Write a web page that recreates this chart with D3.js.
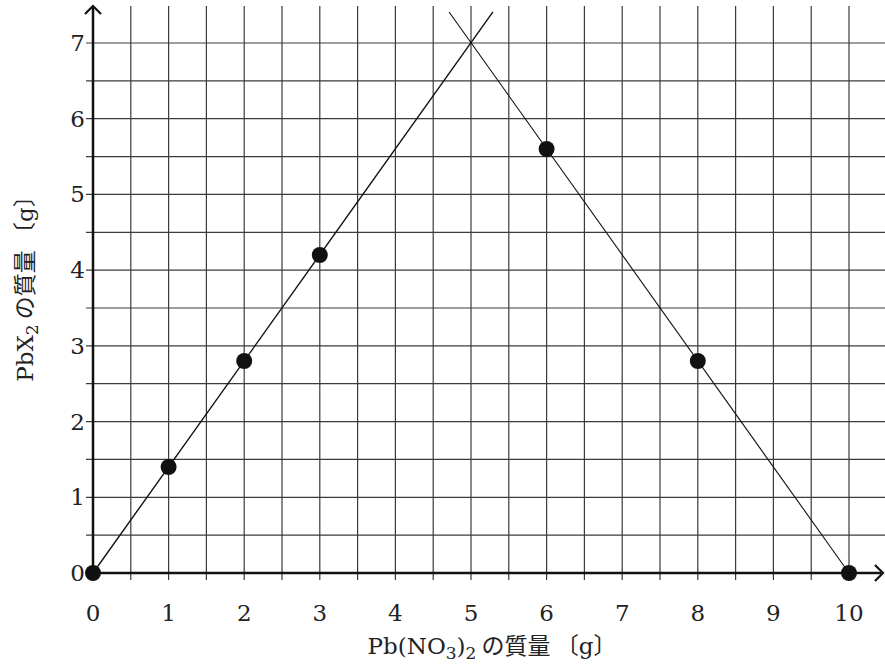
<!DOCTYPE html>
<html><head><meta charset="utf-8">
<script src="https://cdn.jsdelivr.net/npm/d3@7"></script>
<style>body{margin:0;background:#fff}</style>
</head><body>
<svg id="c" width="885" height="665"></svg>
<script>
const xTicks = [0,1,2,3,4,5,6,7,8,9,10];
const yTicks = [0,1,2,3,4,5,6,7];
const ptsX = [0,1,2,3,6,8,10];
const ptsY = [0,1.4,2.8,4.2,5.6,2.8,0];
const line1X = [0,5.29], line1Y = [0,7.41];
const line2X = [10,4.71], line2Y = [0,7.41];
const gridX = d3.range(0.5,10.01,0.5);
const gridY = d3.range(0.5,7.01,0.5);

const svg = d3.select("#c");
const x = d3.scaleLinear().domain([0,10]).range([93,849]);
const y = d3.scaleLinear().domain([0,7]).range([573,43]);
const serif = "'DejaVu Serif','Liberation Serif',serif";
const cjk = "'Noto Sans CJK JP'";
const gridTop = y(7.49), gridRight = 885;

const g = svg.append("g");
g.selectAll(".gv").data(gridX).join("line")
  .attr("x1",d=>x(d)).attr("x2",d=>x(d)).attr("y1",gridTop).attr("y2",580)
  .attr("stroke","#3a3a3a").attr("stroke-width",1.2);
g.selectAll(".gh").data(gridY).join("line")
  .attr("y1",d=>y(d)).attr("y2",d=>y(d)).attr("x1",86).attr("x2",gridRight)
  .attr("stroke","#3a3a3a").attr("stroke-width",1.2);

// axes
svg.append("line").attr("x1",x(0)).attr("x2",881).attr("y1",y(0)).attr("y2",y(0)).attr("stroke","#111").attr("stroke-width",2.5);
svg.append("line").attr("x1",x(0)).attr("x2",x(0)).attr("y1",y(0)).attr("y2",6).attr("stroke","#111").attr("stroke-width",2.5);
svg.append("path").attr("d",`M${x(0)-8},${14} L${x(0)},${6} L${x(0)+8},${14}`).attr("fill","none").attr("stroke","#111").attr("stroke-width",2.2);
svg.append("path").attr("d",`M${875},${y(0)-8} L${883},${y(0)} L${875},${y(0)+8}`).attr("fill","none").attr("stroke","#111").attr("stroke-width",2.2);

// data lines
const lg = d3.line().x(d=>x(d[0])).y(d=>y(d[1]));
svg.append("path").attr("d",lg(d3.zip(line1X,line1Y))).attr("stroke","#111").attr("stroke-width",1.4).attr("fill","none");
svg.append("path").attr("d",lg(d3.zip(line2X,line2Y))).attr("stroke","#111").attr("stroke-width",1.1).attr("fill","none");

// points
svg.selectAll(".pt").data(d3.zip(ptsX,ptsY)).join("circle")
  .attr("cx",d=>x(d[0])).attr("cy",d=>y(d[1])).attr("r",8).attr("fill","#111");

// tick labels
svg.selectAll(".xt").data(xTicks).join("text")
  .attr("x",d=>x(d)).attr("y",621).attr("text-anchor","middle")
  .attr("font-family",serif).attr("font-size",23).attr("fill","#222").text(d=>d);
svg.selectAll(".yt").data(yTicks).join("text")
  .attr("x",85).attr("y",d=>y(d)+8).attr("text-anchor","end")
  .attr("font-family",serif).attr("font-size",23).attr("fill","#222").text(d=>d);

function title(sel, parts){
  parts.forEach(p=>{
    const t = sel.append("tspan").text(p.t);
    if(p.sub){ t.attr("font-size",17).attr("dy",p.dy); }
    else if(p.dy) t.attr("dy",p.dy);
    if(p.cjk) t.attr("font-family",cjk).attr("font-size",23);
  });
}
// x title
const xt = svg.append("text").attr("x",492).attr("y",654).attr("text-anchor","middle")
  .attr("font-family",serif).attr("font-size",23).attr("fill","#222");
title(xt,[{t:"Pb(NO"},{t:"3",sub:1,dy:5},{t:")",dy:-5},{t:"2",sub:1,dy:5},
  {t:" の質量 〔",cjk:1,dy:-5},{t:"g"},{t:"〕",cjk:1}]);

// y title
const yt = svg.append("text").attr("transform","translate(33,283) rotate(-90)").attr("text-anchor","middle")
  .attr("font-family",serif).attr("font-size",23).attr("fill","#222");
title(yt,[{t:"PbX"},{t:"2",sub:1,dy:5},{t:" の質量 〔",cjk:1,dy:-5},{t:"g"},{t:"〕",cjk:1}]);
</script>
</body></html>
